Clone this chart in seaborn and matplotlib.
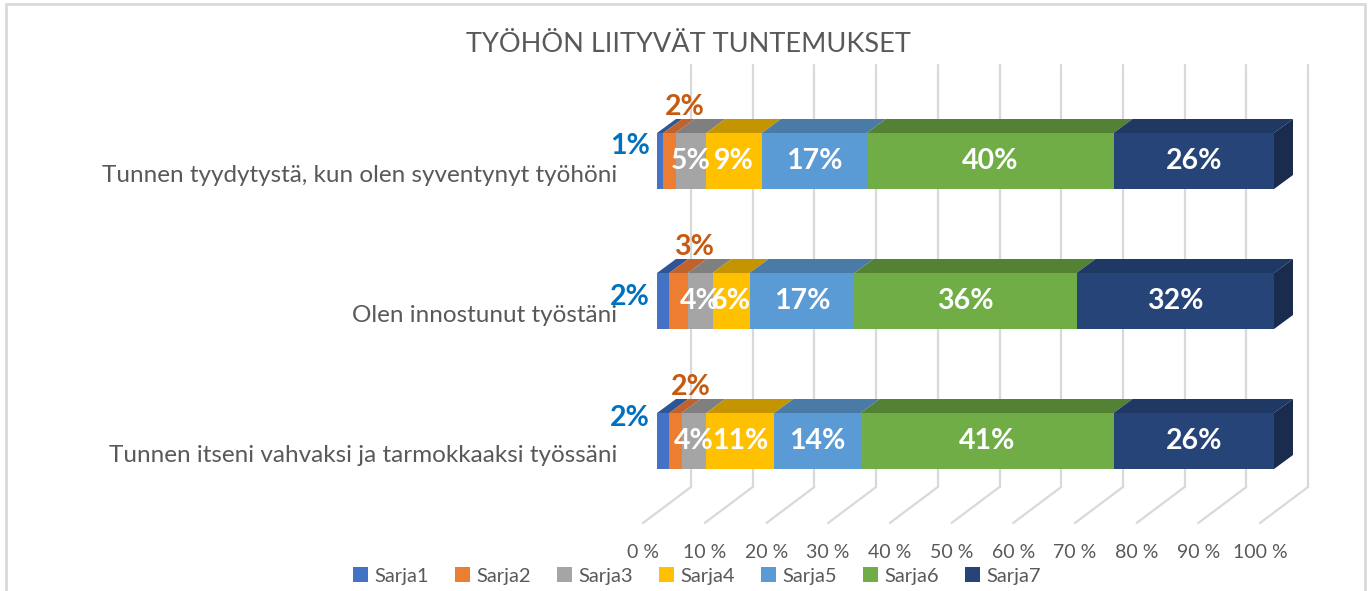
import matplotlib
matplotlib.use("Agg")
import pandas as pd
import matplotlib.pyplot as plt
import seaborn as sns
from matplotlib.patches import Polygon, Patch, Rectangle

# Chart data
title = "TYÖHÖN LIITYVÄT TUNTEMUKSET"
categories = [
    "Tunnen tyydytystä, kun olen syventynyt työhöni",
    "Olen innostunut työstäni",
    "Tunnen itseni vahvaksi ja tarmokkaaksi työssäni",
]
series = ["Sarja1", "Sarja2", "Sarja3", "Sarja4", "Sarja5", "Sarja6", "Sarja7"]
sarja1 = [1, 2, 2]
sarja2 = [2, 3, 2]
sarja3 = [5, 4, 4]
sarja4 = [9, 6, 11]
sarja5 = [17, 17, 14]
sarja6 = [40, 36, 41]
sarja7 = [26, 32, 26]
ticks = [0, 10, 20, 30, 40, 50, 60, 70, 80, 90, 100]
tick_labels = [f"{t} %" for t in ticks]

# Colours (front face / top face)
front_colors = ["#4472C4", "#ED7D31", "#A5A5A5", "#FFC000", "#5B9BD5", "#70AD47", "#264478"]
top_colors = ["#2F5597", "#C0622B", "#7F7F7F", "#C49500", "#4A7BA7", "#548235", "#1F3864"]
side_color = "#1A2C4E"
text_grey = "#595959"
grid_grey = "#D9D9D9"

# Pixel scale of the figure (front face of the bars: 0 % -> 657 px, 100 % -> 1274 px)
W, H = 1370, 591
X0, PX = 657, 6.17      # px at 0 %, px per percent
Y0, PY = 161, 140       # px of first row centre, px per row


def dx(px):
    return px / PX


def dy(px):
    return px / PY


DEPTH_X, DEPTH_Y = dx(19), dy(-14)          # 3D depth of a bar
BACK_X, FRONT_X = dx(34), dx(-14)           # back wall / front floor shift
WALL_TOP, WALL_BOT, FLOOR_FRONT = dy(65 - Y0), dy(487 - Y0), dy(523 - Y0)

df = pd.DataFrame({"kategoria": categories, "Sarja1": sarja1, "Sarja2": sarja2,
                   "Sarja3": sarja3, "Sarja4": sarja4, "Sarja5": sarja5,
                   "Sarja6": sarja6, "Sarja7": sarja7})
cum = df[series].cumsum(axis=1)
cum["kategoria"] = df["kategoria"]

sns.set_style("white")
plt.rcParams["font.family"] = ["Lato", "DejaVu Sans"]

fig = plt.figure(figsize=(W / 100, H / 100), dpi=100)
ax = fig.add_axes([0, 0, 1, 1])

# gridlines: back wall + floor
for t in ticks:
    ax.plot([t + BACK_X, t + BACK_X], [WALL_TOP, WALL_BOT], color=grid_grey, lw=1.6, zorder=0)
    ax.plot([t + BACK_X, t + FRONT_X], [WALL_BOT, FLOOR_FRONT], color=grid_grey, lw=1.6, zorder=0)

# stacked bars: draw from the largest cumulative sum down
for i in reversed(range(len(series))):
    sns.barplot(data=cum, x=series[i], y="kategoria", orient="h", color=front_colors[i],
                saturation=1, width=0.4, linewidth=0, errorbar=None, ax=ax, zorder=2)

# 3D top and side faces
for r in range(len(categories)):
    top, bot = r - 0.2, r + 0.2
    for i, s in enumerate(series):
        right = cum.loc[r, s]
        left = right - df.loc[r, s]
        ax.add_patch(Polygon([(left, top), (right, top), (right + DEPTH_X, top + DEPTH_Y),
                              (left + DEPTH_X, top + DEPTH_Y)], closed=True,
                             facecolor=top_colors[i], edgecolor="none", zorder=3))
    end = cum.loc[r, series[-1]]
    ax.add_patch(Polygon([(end, top), (end + DEPTH_X, top + DEPTH_Y),
                          (end + DEPTH_X, bot + DEPTH_Y), (end, bot)], closed=True,
                         facecolor=side_color, edgecolor="none", zorder=3))

# value labels
sarja1_offsets = [dy(-15), dy(-4), dy(-23)]
for r in range(len(categories)):
    ax.text(dx(-7), r + sarja1_offsets[r], f"{df.loc[r, 'Sarja1']}%", ha="right", va="center",
            color="#0070C0", fontsize=20.5, fontweight="bold", zorder=5)
    mid2 = cum.loc[r, "Sarja2"] - df.loc[r, "Sarja2"] / 2
    ax.text(mid2 + dx(15), r + dy(-54), f"{df.loc[r, 'Sarja2']}%", ha="center", va="center",
            color="#C55A11", fontsize=20.5, fontweight="bold", zorder=5)
    for s in series[2:]:
        mid = cum.loc[r, s] - df.loc[r, s] / 2
        ax.text(mid, r, f"{df.loc[r, s]}%", ha="center", va="center", color="white",
                fontsize=20.5, fontweight="bold", zorder=5)
    ax.text(dx(617 - X0), r + dy(14), categories[r], ha="right", va="center",
            color=text_grey, fontsize=17.5, zorder=5)

# x tick labels on the front edge of the floor
for t, lab in zip(ticks, tick_labels):
    ax.text(t + FRONT_X, dy(553 - Y0), lab, ha="center", va="center", color=text_grey, fontsize=14)

ax.set_xlim(dx(-X0), dx(W - X0))
ax.set_ylim(dy(H - Y0), dy(-Y0))
ax.axis("off")

fig.text(688 / W, 1 - 45 / H, title, ha="center", va="center", fontsize=19.5, color=text_grey)

handles = [Patch(facecolor=c, edgecolor="none", label=s) for c, s in zip(front_colors, series)]
fig.legend(handles=handles, loc="center", bbox_to_anchor=(697 / W, 1 - 576 / H), ncol=7,
           frameon=False, fontsize=14.5, handlelength=0.75, handleheight=0.75,
           handletextpad=0.3, columnspacing=1.3, labelcolor=text_grey)

fig.patches.append(Rectangle((6 / W, -0.05), (1365 - 6) / W, 1.05 - 4 / H, transform=fig.transFigure,
                             fill=False, edgecolor=grid_grey, lw=2))

fig.savefig("out.png", dpi=100)
